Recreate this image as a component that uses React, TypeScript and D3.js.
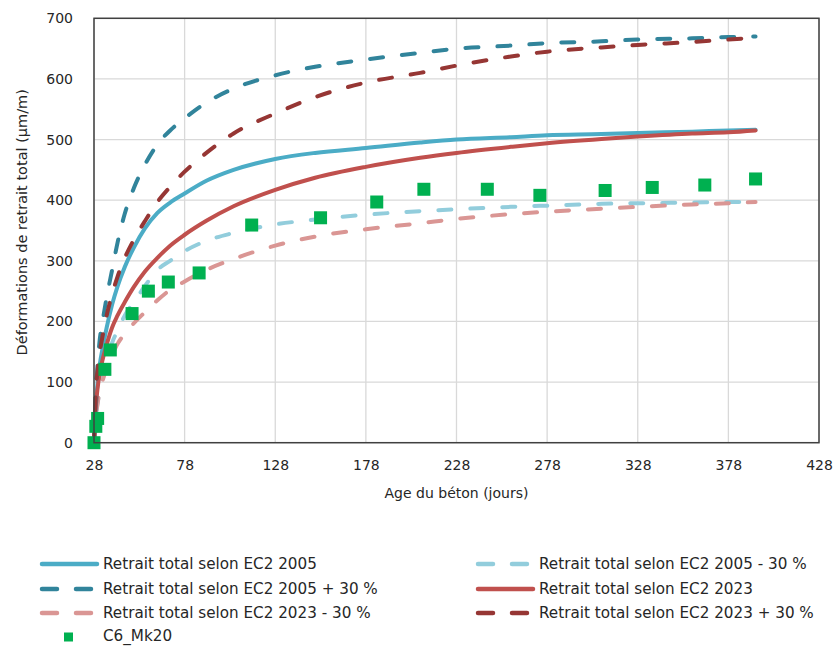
import { useEffect, useRef } from "react";
import * as d3 from "d3";

// age of concrete (days) used for the model curves
const days = [28, 29, 30, 31, 33, 35, 38, 41, 45, 50, 56, 63, 70, 78, 90, 105, 128, 150, 178, 208, 228, 258, 278, 308, 328, 358, 378, 393];

const ec2005 = [0, 60, 100, 125, 160, 190, 228, 258, 290, 322, 353, 379, 396, 411, 432, 450, 468, 478, 486, 495, 500, 504, 507, 509, 511, 513, 515, 516];
const ec2005Plus = [0, 80, 130, 165, 205, 240, 285, 330, 378, 420, 458, 492, 515, 535, 561, 584, 606, 620, 632, 643, 650, 655, 659, 662, 665, 667, 669, 670];
const ec2005Minus = [0, 40, 65, 85, 115, 138, 165, 185, 210, 232, 258, 285, 300, 316, 333, 346, 360, 368, 376, 382, 385, 389, 391, 394, 395, 396, 397, 397];
const ec2023 = [0, 60, 90, 112, 140, 162, 190, 210, 232, 257, 282, 305, 325, 343, 366, 390, 417, 437, 455, 470, 478, 488, 494, 501, 505, 510, 512, 515];
const ec2023Plus = [0, 85, 120, 145, 180, 210, 245, 274, 305, 335, 365, 397, 422, 447, 478, 510, 543, 570, 594, 610, 622, 637, 645, 652, 656, 661, 665, 668];
const ec2023Minus = [0, 45, 65, 85, 105, 123, 145, 163, 180, 197, 215, 235, 252, 266, 285, 303, 325, 340, 352, 362, 369, 377, 381, 386, 389, 393, 395, 397];

// measured specimen
const mkDays = [28, 29, 30, 34, 37, 49, 58, 69, 86, 115, 153, 184, 210, 245, 274, 310, 336, 365, 393];
const mkValues = [0, 27, 40, 121, 153, 213, 250, 265, 280, 359, 371, 397, 418, 418, 408, 416, 421, 425, 435];

const xTicks = [28, 78, 128, 178, 228, 278, 328, 378, 428];
const yTicks = [0, 100, 200, 300, 400, 500, 600, 700];

const series = [
  { name: "Retrait total selon EC2 2005", values: ec2005, color: "#4BACC6", dash: null },
  { name: "Retrait total selon EC2 2005 - 30 %", values: ec2005Minus, color: "#92CDDC", dash: "13 19" },
  { name: "Retrait total selon EC2 2005 + 30 %", values: ec2005Plus, color: "#31849B", dash: "13 19" },
  { name: "Retrait total selon EC2 2023", values: ec2023, color: "#C0504D", dash: null },
  { name: "Retrait total selon EC2 2023 - 30 %", values: ec2023Minus, color: "#DA9694", dash: "13 19" },
  { name: "Retrait total selon EC2 2023 + 30 %", values: ec2023Plus, color: "#963634", dash: "13 19" },
];
const drawOrder = [1, 4, 0, 3, 2, 5];
const mkName = "C6_Mk20";
const mkColor = "#00B050";

const W = 838;
const H = 646;
const margin = { left: 94, top: 18.3, right: 19, bottom: 203.3 };

export default function App() {
  const svgRef = useRef(null);

  useEffect(() => {
    const width = W - margin.left - margin.right;
    const height = H - margin.top - margin.bottom;
    const x = d3.scaleLinear().domain([28, 428]).range([0, width]);
    const y = d3.scaleLinear().domain([0, 700]).range([height, 0]);

    const svgEl = d3.select(svgRef.current);
    svgEl.selectAll("*").remove();
    const svg = svgEl.append("g").attr("transform", `translate(${margin.left},${margin.top})`);

    // grid
    svg.append("g")
      .selectAll("line.v")
      .data(xTicks)
      .enter()
      .append("line")
      .attr("x1", (d) => x(d)).attr("x2", (d) => x(d))
      .attr("y1", 0).attr("y2", height)
      .attr("stroke", "#D9D9D9").attr("stroke-width", 1.3);
    svg.append("g")
      .selectAll("line.h")
      .data(yTicks)
      .enter()
      .append("line")
      .attr("x1", 0).attr("x2", width)
      .attr("y1", (d) => y(d)).attr("y2", (d) => y(d))
      .attr("stroke", "#D9D9D9").attr("stroke-width", 1.3);

    // tick labels
    const axisFont = "'DejaVu Sans', Verdana, sans-serif";
    const xAxis = d3.axisBottom(x).tickValues(xTicks).tickSize(0).tickPadding(17);
    const xg = svg.append("g").attr("transform", `translate(0,${height})`).call(xAxis);
    xg.select(".domain").remove();
    xg.selectAll("text").attr("font-size", 14).attr("font-family", axisFont).attr("fill", "#262626");

    const yAxis = d3.axisLeft(y).tickValues(yTicks).tickSize(0).tickPadding(21);
    const yg = svg.append("g").call(yAxis);
    yg.select(".domain").remove();
    yg.selectAll("text").attr("font-size", 14).attr("font-family", axisFont).attr("fill", "#262626");

    // axis titles
    svg.append("text")
      .attr("x", width / 2).attr("y", height + 55)
      .attr("text-anchor", "middle")
      .attr("font-size", 14).attr("font-family", axisFont).attr("fill", "#262626")
      .text("Age du béton (jours)");
    svg.append("text")
      .attr("transform", `translate(${-67},${204}) rotate(-90)`)
      .attr("text-anchor", "middle")
      .attr("font-size", 14.5).attr("font-family", axisFont).attr("fill", "#262626")
      .text("Déformations de retrait total (µm/m)");

    // curves
    const line = d3.line()
      .x((d) => x(d[0]))
      .y((d) => y(d[1]))
      .curve(d3.curveMonotoneX);
    drawOrder.forEach((i) => {
      const s = series[i];
      const pts = days.map((d, k) => [d, s.values[k]]);
      svg.append("path")
        .attr("d", line(pts))
        .attr("fill", "none")
        .attr("stroke", s.color)
        .attr("stroke-width", 4)
        .attr("stroke-linecap", "round")
        .attr("stroke-dasharray", s.dash);
    });

    // measured points
    const sq = 13;
    svg.append("g")
      .selectAll("rect")
      .data(mkDays.map((d, k) => [d, mkValues[k]]))
      .enter()
      .append("rect")
      .attr("x", (d) => x(d[0]) - sq / 2)
      .attr("y", (d) => y(d[1]) - sq / 2)
      .attr("width", sq).attr("height", sq)
      .attr("fill", mkColor);

    // frame
    svg.append("rect")
      .attr("width", width).attr("height", height)
      .attr("fill", "none").attr("stroke", "#404040").attr("stroke-width", 1.5);

    // legend
    const legendFont = "'DejaVu Sans', Verdana, sans-serif";
    const lg = svgEl.append("g");
    const rowY = [564, 589, 613, 637];
    const colX = [42, 478];
    series.forEach((s, k) => {
      const cx = colX[k % 2];
      const cy = rowY[Math.floor(k / 2)];
      lg.append("line")
        .attr("x1", cx).attr("x2", cx + 55)
        .attr("y1", cy).attr("y2", cy)
        .attr("stroke", s.color).attr("stroke-width", 4.5)
        .attr("stroke-linecap", "round")
        .attr("stroke-dasharray", s.dash ? "15 19" : null);
      lg.append("text")
        .attr("x", cx + 61).attr("y", cy + 5)
        .attr("font-size", 15.2).attr("font-family", legendFont).attr("fill", "#262626")
        .text(s.name);
    });
    lg.append("rect")
      .attr("x", 64).attr("y", rowY[3] - 4.5).attr("width", 9).attr("height", 9)
      .attr("fill", mkColor);
    lg.append("text")
      .attr("x", 103).attr("y", rowY[3] + 4)
      .attr("font-size", 15.2).attr("font-family", legendFont).attr("fill", "#262626")
      .text(mkName);
  }, []);

  return (
    <svg
      ref={svgRef}
      width={W}
      height={H}
      style={{ position: "absolute", left: 0, top: 0, background: "#fff" }}
    />
  );
}
